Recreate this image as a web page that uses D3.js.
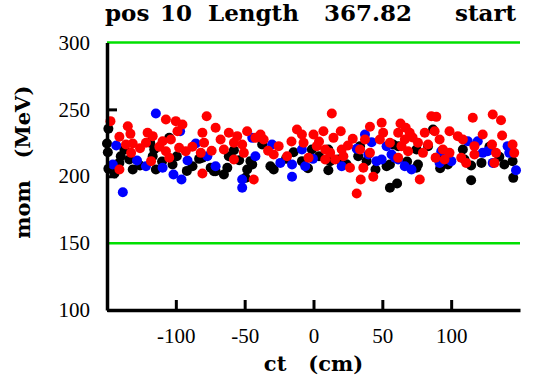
<!DOCTYPE html>
<html>
<head>
<meta charset="utf-8">
<script src="https://cdn.jsdelivr.net/npm/d3@7"></script>
<style>
  body { margin: 0; background: #fff; }
  svg text { font-family: "Liberation Serif", "Times New Roman", serif; }
  .lbl { font-family: "DejaVu Serif", serif; font-weight: bold; }
</style>
</head>
<body>
<div id="chart"></div>
<script>
// data: [ct (cm), mom (MeV)]
var blackPts = [
  [-149, 235.5], [-150, 224.5], [-149.4, 218], [-149, 205.6], [-144.6, 202], [-141, 210],
  [-137.4, 220], [-133.8, 212.5], [-131.3, 205], [-118.6, 225], [-115.7, 220], [-114.5, 205],
  [-116.8, 215], [-104.8, 228.7], [-102.4, 208.8], [-99.3, 215], [-87.9, 207.5], [-83.1, 213],
  [-74.7, 206.3], [-71.1, 203.8], [-65.1, 201.3], [-62.6, 206.3], [-61.5, 215], [-57.8, 219.5],
  [-48.2, 205], [-49.4, 198.8], [-44.5, 208.8], [-37.3, 223.7], [-31.3, 207.5], [-28.9, 205],
  [-14.5, 218], [-8.4, 211.3], [-80.7, 213.8], [-72.3, 203.8], [-45.8, 211.3], [-126, 208],
  [-110, 211], [-92, 204], [-20, 213], [-4, 206], [-140, 215], [-54, 212],
  [-1.2, 220], [10.8, 220], [12.1, 211.3], [10.8, 204.5], [18.1, 212.5], [33.8, 222.5],
  [32.5, 215], [38.6, 211.3], [53.1, 207.5], [55.5, 208.8], [57.8, 223.7], [61.5, 222.5],
  [55.5, 191.4], [60.7, 194.6], [74.8, 220], [75.9, 208.8], [74.8, 206.3], [83.2, 222.5],
  [86.8, 235], [89.2, 213.8], [97.6, 208.8], [108.5, 220], [109.7, 212.5], [114.5, 208],
  [114.5, 197], [127.8, 222], [135, 214.5], [138.6, 208.8], [144.6, 211.3], [145.1, 198.8],
  [4, 215], [24, 209], [45, 205], [68, 211], [92, 206], [122, 210]
];

var bluePts = [
  [-114.5, 246.9], [-143.3, 223], [-145.8, 208.8], [-138.5, 188], [-128.2, 211.8], [-121.7, 207.5],
  [-109.6, 206.3], [-101.7, 201.3], [-95.9, 197.6], [-96.9, 233.7], [-85.5, 224.5], [-91.5, 211.8],
  [-77.1, 215], [-71.1, 207.5], [-51.8, 197.6], [-51.8, 191.4], [-44.5, 228.7], [-42.2, 215],
  [-30.1, 223.7], [-24.1, 210], [-15.6, 199.6], [-15.6, 208.8], [-6, 207.5], [-8.4, 220],
  [37.4, 231.2], [31.4, 220.5], [42.2, 225.5], [39.8, 216.3], [45.8, 211.3], [49.5, 212.5],
  [53.1, 222.5], [56.7, 216.3], [59.1, 213.8], [61.5, 212.5], [66.3, 207.5], [71.2, 205],
  [-0.4, 213], [20.5, 207.5], [92.8, 218.7], [91.6, 210], [100.1, 211.3], [112.1, 226.2],
  [119.3, 226.2], [122.9, 217.5], [126.5, 218.7], [130.2, 210], [141, 222.5], [142.2, 217.5],
  [147.1, 204.5]
];

var redPts = [
  [-147.5, 241.2], [-141, 229.5], [-134.9, 237.4], [-133, 231.7], [-136.2, 223.7], [-131.3, 224.5],
  [-132.5, 217.5], [-141, 205], [-120.5, 232.5], [-121.7, 225], [-116.8, 230], [-107.2, 242.4],
  [-100, 241.2], [-95.2, 238.7], [-98.8, 233.7], [-109.6, 226.2], [-103.6, 227.5], [-107.2, 218.7],
  [-97.6, 221.3], [-92.8, 218.7], [-104.8, 213.8], [-77.6, 244.9], [-71.1, 236.2], [-80.7, 232.5],
  [-79.5, 225], [-67.5, 227.5], [-61.5, 232.5], [-55.4, 230], [-65.1, 220], [-57.8, 225],
  [-51.8, 223.7], [-48.2, 233.7], [-50.6, 217.5], [-57.8, 212.5], [-43.4, 197.6], [-80.7, 202],
  [-81.9, 217.5], [-38.5, 231.2], [-36.2, 227.5], [-42.2, 228.7], [-25.3, 222.5], [-28.9, 216.3],
  [-12, 235], [-8.4, 231.2], [-7.2, 225], [-19.2, 215], [-3.6, 213.8], [-118, 211.3],
  [-126, 221], [-112, 222], [-88, 222], [-74, 219], [-33, 219], [-16, 226],
  [13.3, 246.9], [0, 231.2], [7.2, 233.7], [14.5, 228.7], [19.8, 233.7], [2.4, 222.5],
  [8.5, 220], [12.1, 217.5], [20.5, 220], [8.5, 212.5], [15.7, 212.5], [21.7, 215],
  [26.5, 206.3], [28.5, 228], [41, 237], [49.5, 240], [50.6, 232.5], [48.2, 227.5],
  [37.4, 227.5], [33.8, 220], [41, 217.5], [36.2, 206.3], [43.4, 199.6], [34.3, 197.6],
  [31.4, 187.1], [63.2, 239.4], [67, 236.2], [61.5, 232.5], [69.9, 232.5], [66.3, 227.5],
  [63.9, 222.5], [55.5, 225], [68.7, 218.7], [61.5, 213.8], [75.9, 225], [80.8, 232.5],
  [79.5, 217.5], [83.2, 223.7], [77.2, 197.6], [85.6, 244.9], [89.2, 244.4], [88, 233.7],
  [91.6, 227.5], [94, 220], [98.8, 233.7], [98.8, 217.5], [88.7, 213.8], [95.2, 212.5],
  [104.8, 230], [108.5, 227.5], [107.3, 213.8], [115.7, 243.7], [116.9, 222.5], [116.9, 216.3],
  [110.9, 210], [122.9, 231.2], [130.2, 246.2], [136.2, 241.9], [137, 230.5], [129.7, 223.7],
  [132.6, 217.5], [131.4, 210], [144.6, 223.7], [145.8, 217.5], [4, 226], [25, 223], [72, 229]
];

var xTicks = [-100, -50, 0, 50, 100];
var yTicks = [100, 150, 200, 250, 300];
var cutLines = [150, 300];

var svgWidth = 540;
var svgHeight = 383;
var margin = { top: 42.5, right: 20, bottom: 73, left: 107 };
var width = svgWidth - margin.left - margin.right;
var height = svgHeight - margin.top - margin.bottom;

var svg = d3.select("#chart").append("svg")
  .attr("width", svgWidth)
  .attr("height", svgHeight);

var chartGroup = svg.append("g")
  .attr("transform", `translate(${margin.left}, ${margin.top})`);

var x = d3.scaleLinear().domain([-150, 150]).range([0, width]);
var y = d3.scaleLinear().domain([100, 300]).range([height, 0]);

// green cut lines
chartGroup.selectAll("line.cut")
  .data(cutLines)
  .enter()
  .append("line")
  .attr("x1", 0)
  .attr("x2", width)
  .attr("y1", d => y(d))
  .attr("y2", d => y(d))
  .attr("stroke", "#00e000")
  .attr("stroke-width", 2.5);

// points
var series = [
  { pts: blackPts, color: "#000000" },
  { pts: bluePts, color: "#0000ff" },
  { pts: redPts, color: "#ff0000" }
];
series.forEach(s => {
  chartGroup.append("g").selectAll("circle")
    .data(s.pts)
    .enter()
    .append("circle")
    .attr("cx", d => x(d[0]))
    .attr("cy", d => y(d[1]))
    .attr("r", 5)
    .attr("fill", s.color);
});

// axes, ticks pointing inward
var xAxis = chartGroup.append("g")
  .attr("transform", `translate(0, ${height})`)
  .call(d3.axisBottom(x).tickValues(xTicks).tickFormat(d => String(d))
    .tickSizeInner(-10).tickSizeOuter(0).tickPadding(18));

var yAxis = chartGroup.append("g")
  .call(d3.axisLeft(y).tickValues(yTicks).tickFormat(d => String(d))
    .tickSizeInner(-10).tickSizeOuter(0).tickPadding(17));

[xAxis, yAxis].forEach(a => {
  a.attr("font-family", null).attr("font-size", 21);
  a.select(".domain").attr("stroke", "#000").attr("stroke-width", 3.5);
  a.selectAll(".tick line").attr("stroke", "#000").attr("stroke-width", 3);
  a.selectAll(".tick text").attr("fill", "#000");
});
yAxis.selectAll(".tick").filter(d => d === 300 || d === 150).select("line").remove();

// axis labels
svg.append("text")
  .attr("class", "lbl")
  .attr("x", margin.left + width / 2)
  .attr("y", 371)
  .attr("text-anchor", "middle")
  .style("font-size", "21px")
  .style("white-space", "pre")
  .text("ct   (cm)");

svg.append("text")
  .attr("class", "lbl")
  .attr("transform", `translate(30, ${margin.top + height / 2 - 14}) rotate(-90)`)
  .attr("text-anchor", "middle")
  .style("font-size", "21px")
  .style("white-space", "pre")
  .text("mom   (MeV)");

// title
var titleWords = [
  { t: "pos", x: 105 },
  { t: "10", x: 160 },
  { t: "Length", x: 208 },
  { t: "367.82", x: 324 },
  { t: "start", x: 455 }
];
svg.append("g").selectAll("text")
  .data(titleWords)
  .enter()
  .append("text")
  .attr("class", "lbl")
  .attr("x", d => d.x)
  .attr("y", 21)
  .style("font-size", "23px")
  .text(d => d.t);
</script>
</body>
</html>
